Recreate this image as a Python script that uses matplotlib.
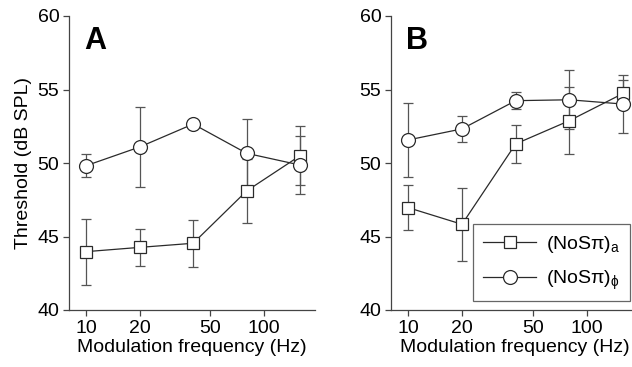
import matplotlib
matplotlib.use("Agg")
import matplotlib.pyplot as plt
from matplotlib.lines import Line2D
import numpy as np

plt.rcParams['font.family'] = ['Liberation Sans', 'DejaVu Sans']
plt.rcParams['mathtext.fontset'] = 'custom'
plt.rcParams['mathtext.rm'] = 'Liberation Sans'
plt.rcParams['mathtext.it'] = 'Liberation Sans'

freqs = [10, 20, 40, 80, 160]

# Panel A
a_sq = [43.97, 44.26, 44.54, 48.1, 50.5]
a_sq_err = [2.25, 1.25, 1.6, 2.2, 2.0]
a_ci = [49.82, 51.09, 52.65, 50.66, 49.86]
a_ci_err = [0.8, 2.7, 0.3, 2.35, 1.95]

# Panel B
b_sq = [46.96, 45.83, 51.30, 52.88, 54.73]
b_sq_err = [1.55, 2.5, 1.3, 2.3, 0.93]
b_ci = [51.57, 52.32, 54.24, 54.3, 54.01]
b_ci_err = [2.5, 0.9, 0.6, 2.0, 1.95]

xticks = [10, 20, 50, 100]
yticks = [40, 45, 50, 55, 60]
labels = ['(NoS\u03c0)$_\\mathrm{a}$', '(NoS\u03c0)$_\\mathrm{\u03d5}$']

fig = plt.figure(figsize=(6.32, 3.67), dpi=100)
W, H = 632, 367
axA = fig.add_axes([69 / W, 1 - 310 / H, 246 / W, 294 / H])
axB = fig.add_axes([391 / W, 1 - 310 / H, 247 / W, 294 / H])

lc = '#2a2a2a'
ec = '#555555'
FS = 14

def draw(ax, sq, sqe, ci, cie, letter):
    ax.errorbar(freqs, sq, yerr=sqe, color=lc, ecolor=ec, elinewidth=0.9,
                capsize=3.5, capthick=0.9, lw=0.9, marker='s', ms=8.5,
                mfc='white', mec=lc, mew=0.9, zorder=3)
    ax.errorbar(freqs, ci, yerr=cie, color=lc, ecolor=ec, elinewidth=0.9,
                capsize=3.5, capthick=0.9, lw=0.9, marker='o', ms=10,
                mfc='white', mec=lc, mew=0.9, zorder=3)
    ax.set_xscale('log')
    ax.set_xlim(8.0, 194)
    ax.set_ylim(40, 60)
    ax.set_xticks(xticks)
    ax.set_xticklabels([str(t) for t in xticks])
    ax.xaxis.set_minor_locator(matplotlib.ticker.NullLocator())
    ax.set_yticks(yticks)
    for s in ['top', 'right']:
        ax.spines[s].set_visible(False)
    for s in ['left', 'bottom']:
        ax.spines[s].set_color('#444444')
        ax.spines[s].set_linewidth(0.9)
    ax.tick_params(direction='out', length=4, width=0.9, color='#444444',
                   labelsize=FS, pad=3)
    ax.set_xlabel('Modulation frequency (Hz)', fontsize=FS, labelpad=2)
    ax.text(0.06, 0.965, letter, transform=ax.transAxes, fontsize=22,
            fontweight='bold', va='top', ha='left')

draw(axA, a_sq, a_sq_err, a_ci, a_ci_err, 'A')
axA.set_ylabel('Threshold (dB SPL)', fontsize=FS, labelpad=4)
draw(axB, b_sq, b_sq_err, b_ci, b_ci_err, 'B')

hl1 = Line2D([], [], color=lc, lw=0.9, marker='s', ms=8.5, mfc='white', mec=lc, mew=0.9)
hl2 = Line2D([], [], color=lc, lw=0.9, marker='o', ms=10, mfc='white', mec=lc, mew=0.9)
leg = fig.legend([hl1, hl2], labels, loc='upper right',
                 bbox_to_anchor=(630 / W, 1 - 224 / H), bbox_transform=fig.transFigure,
                 borderaxespad=0, fontsize=FS, handlelength=2.75, fancybox=False,
                 framealpha=1, edgecolor='#666666', borderpad=0.5, labelspacing=0.7,
                 handletextpad=0.5)
leg.get_frame().set_linewidth(0.9)

fig.savefig('out.png', dpi=100)
